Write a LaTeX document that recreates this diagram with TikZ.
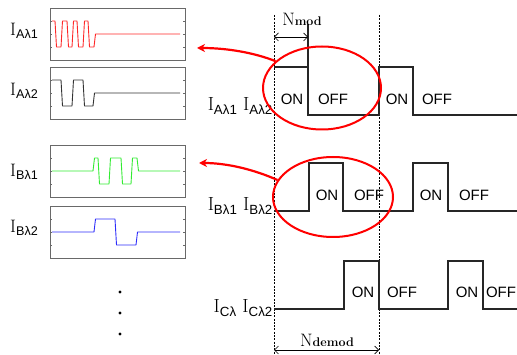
\documentclass[tikz,border=0pt]{standalone}
\usepackage{fontspec}
\setsansfont{Liberation Sans}
\usetikzlibrary{shapes.geometric,arrows.meta}

\definecolor{traceRed}{RGB}{255,40,40}
\definecolor{traceGreen}{RGB}{50,235,50}
\definecolor{traceBlue}{RGB}{45,45,250}
\definecolor{frameGray}{RGB}{105,105,105}

\newcommand{\cur}[1]{I\textsubscript{\sffamily #1}}
\newcommand{\nlab}[1]{N{\fontsize{12.5}{13}\selectfont\bfseries #1}}

\begin{document}
\begin{tikzpicture}[x=1pt, y=-1pt,
  plotbox/.style={draw=frameGray, line width=0.8pt},
  trace/.style={line width=0.9pt, line join=round},
  wave/.style={line width=1.1pt, black!85},
  onoff/.style={font=\sffamily\fontsize{15}{15}\selectfont, inner sep=0pt},
  lbl/.style={font=\fontsize{18}{18}\selectfont, inner sep=0pt},
  biglbl/.style={font=\fontsize{19}{19}\selectfont, inner sep=0pt},
  sep/.style={dash pattern=on 2pt off 1.3pt, line width=0.9pt},
  ring/.style={draw=red, line width=2pt, ellipse, inner sep=0pt},
  pointer/.style={red, line width=2.2pt, -{Stealth[length=8pt,width=8pt,inset=2.5pt]}},
  span/.style={{Straight Barb[length=4pt]}-{Straight Barb[length=4pt]}, line width=0.7pt}]

  \useasboundingbox (0,0) rectangle (517,355);

  % plot frames with small ticks
  \foreach \t in {8,67,145,206} {
    \draw[plotbox] (50,\t) rectangle (185,\t+52);
    \foreach \k in {1,2,3} {
      \draw[frameGray, line width=0.5pt] (50,\t+13*\k) -- +(2,0);
      \draw[frameGray, line width=0.5pt] (185,\t+13*\k) -- +(-2,0);
    }
  }

  % traces of the single wavelengths
  \draw[trace, traceRed] (52,21) -- (55,21) -- (56.5,47) -- (61,47) -- (62.5,21) -- (67,21)
    -- (68.5,47) -- (72,47) -- (73.5,21) -- (77,21) -- (78.5,47) -- (83,47) -- (84.5,21)
    -- (88,21) -- (89.5,47) -- (94,47) -- (95.5,34) -- (180,34);
  \draw[trace, black!80] (52,80) -- (61,80) -- (62.5,106) -- (72,106) -- (73.5,80) -- (83,80)
    -- (84.5,106) -- (93,106) -- (94.5,93) -- (180,93);
  \draw[trace, traceGreen] (52,171) -- (93,171) -- (94.5,158) -- (98,158) -- (99.5,184)
    -- (109,184) -- (110.5,158) -- (121,158) -- (122.5,184) -- (131,184) -- (132.5,158)
    -- (137,158) -- (138.5,171) -- (180,171);
  \draw[trace, traceBlue] (52,232) -- (94,232) -- (95.5,219) -- (115,219) -- (116.5,245)
    -- (136,245) -- (137.5,232) -- (180,232);

  % labels of the small plots
  \node[lbl, anchor=west] (lblA1) at (10,31) {\cur{Aλ1}};
  \node[lbl, anchor=west] (lblA2) at (10,91) {\cur{Aλ2}};
  \node[lbl, anchor=west] (lblB1) at (10,172) {\cur{Bλ1}};
  \node[lbl, anchor=west] (lblB2) at (10,228) {\cur{Bλ2}};

  % more channels
  \foreach \y in {292,313,334}
    \fill (120,\y) circle (1.7);

  % window borders
  \draw[sep] (274,15) -- (274,355);
  \draw[sep] (379,15) -- (379,355);

  % switching sequences
  \draw[wave] (308,24) -- (308,67);
  \draw[wave] (274,67) -- (308,67) -- (308,115) -- (379,115) -- (379,67) -- (413,67)
    -- (413,115) -- (517,115);
  \draw[wave] (274,211) -- (309,211) -- (309,163) -- (343,163) -- (343,211) -- (413,211)
    -- (413,163) -- (448,163) -- (448,211) -- (517,211);
  \draw[wave] (274,309) -- (344,309) -- (344,261) -- (379,261) -- (379,309) -- (448,309)
    -- (448,261) -- (483,261) -- (483,309) -- (517,309);

  \node[biglbl, anchor=east] (lblA) at (273,106) {\cur{Aλ1} \cur{Aλ2}};
  \node[biglbl, anchor=east] (lblB) at (273,206) {\cur{Bλ1} \cur{Bλ2}};
  \node[biglbl, anchor=east] (lblC) at (273,308) {\cur{Cλ} \cur{Cλ2}};

  \node[onoff] (onA1) at (292,99) {ON};
  \node[onoff] (offA1) at (333,99) {OFF};
  \node[onoff] (onA2) at (397,99) {ON};
  \node[onoff] (offA2) at (437,99) {OFF};
  \node[onoff] (onB1) at (327,195) {ON};
  \node[onoff] (offB1) at (369,195) {OFF};
  \node[onoff] (onB2) at (431,195) {ON};
  \node[onoff] (offB2) at (474,195) {OFF};
  \node[onoff] (onC1) at (363,292) {ON};
  \node[onoff] (offC1) at (402,292) {OFF};
  \node[onoff] (onC2) at (467,292) {ON};
  \node[onoff] (offC2) at (501,292) {OFF};

  % window lengths
  \node[lbl] (nmod) at (302,19) {\nlab{mod}};
  \coordinate (modL) at (274,37);
  \coordinate (modR) at (308,37);
  \draw[span] (modL) -- (modR);
  \node[lbl] (ndemod) at (327,340) {\nlab{demod}};
  \coordinate (demodL) at (274,350);
  \coordinate (demodR) at (379,350);
  \draw[span] (demodL) -- (demodR);

  % highlighted windows
  \node[ring, minimum width=118pt, minimum height=83pt] (ellA) at (322,88) {};
  \node[ring, minimum width=120pt, minimum height=80pt] (ellB) at (333,197) {};
  \coordinate (tipA) at (197,48);
  \coordinate (tipB) at (199,163);
  \draw[pointer] (ellA.150) .. controls (255,53) and (228,48) .. (tipA);
  \draw[pointer] (ellB.163) .. controls (255,170) and (228,163) .. (tipB);

\end{tikzpicture}
\end{document}
